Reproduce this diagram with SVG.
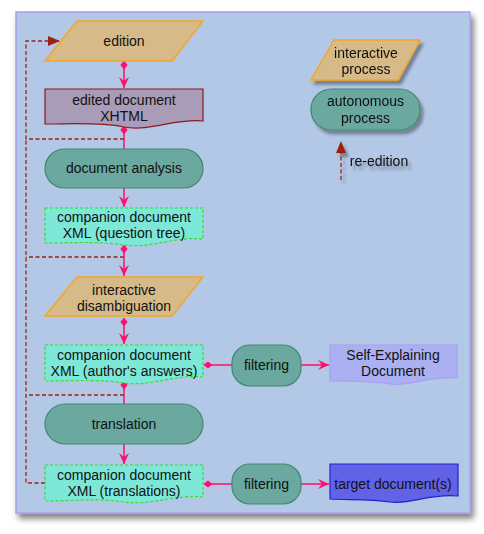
<svg xmlns="http://www.w3.org/2000/svg" width="484" height="534" viewBox="0 0 484 534">
<style>
text{font-family:"Liberation Sans",Arial,sans-serif;font-size:14px;fill:#111;text-anchor:middle}
.par{fill:#d6bb88;stroke:#f5a623;stroke-width:1.5}
.auto{fill:#6aa8a0;stroke:#3e8a6e;stroke-width:1.2}
.comp{fill:#7de8d8;stroke:#33dd33;stroke-width:1.2;stroke-dasharray:3,2}
.con{fill:none;stroke:#ff0f6a;stroke-width:1.5}
.red{fill:none;stroke:#9a2410;stroke-width:1.3;stroke-dasharray:4,2.5}
</style>
<defs>
<filter id="bgsh" x="-10%" y="-10%" width="125%" height="125%">
<feGaussianBlur in="SourceAlpha" stdDeviation="3"/>
<feOffset dx="3" dy="5"/>
<feComponentTransfer><feFuncA type="linear" slope="0.5"/></feComponentTransfer>
<feMerge><feMergeNode/><feMergeNode in="SourceGraphic"/></feMerge>
</filter>
<filter id="sh" x="-20%" y="-20%" width="150%" height="160%">
<feGaussianBlur in="SourceAlpha" stdDeviation="1.5"/>
<feOffset dx="3" dy="4"/>
<feComponentTransfer><feFuncA type="linear" slope="0.35"/></feComponentTransfer>
<feMerge><feMergeNode/><feMergeNode in="SourceGraphic"/></feMerge>
</filter>
<marker id="arr" viewBox="0 0 12 12" refX="11" refY="6" markerWidth="12" markerHeight="12" markerUnits="userSpaceOnUse" orient="auto">
<path d="M0,1 L11,6 L0,11 L4,6 Z" fill="#ff0f6a"/>
</marker>
<marker id="dia" viewBox="0 0 10 10" refX="5" refY="5" markerWidth="9" markerHeight="9" markerUnits="userSpaceOnUse" orient="auto">
<path d="M0,5 L5,1 L10,5 L5,9 Z" fill="#ff0f6a"/>
</marker>
<marker id="rarr" viewBox="0 0 12 12" refX="11" refY="6" markerWidth="12" markerHeight="12" markerUnits="userSpaceOnUse" orient="auto">
<path d="M0,1 L12,6 L0,11 Z" fill="#9a2410"/>
</marker>
</defs>
<rect x="16" y="12" width="454" height="501" fill="#b3c7e6" stroke="#a9a0f0" stroke-width="1.5" filter="url(#bgsh)"/>
<g id="connectors">
<path class="red" d="M124,139 H26 V41 H59" marker-end="url(#rarr)"/>
<path class="red" d="M124,257 H26"/>
<path class="red" d="M124,395 H26"/>
<path class="red" d="M45,483 H26 V139"/>
<path class="con" d="M124,65 V88" marker-start="url(#dia)" marker-end="url(#arr)"/>
<path class="con" d="M124,130 V149" marker-start="url(#dia)"/>
<path class="con" d="M124,188 V207" marker-end="url(#arr)"/>
<path class="con" d="M124,249 V276" marker-start="url(#dia)" marker-end="url(#arr)"/>
<path class="con" d="M124,322 V344" marker-start="url(#dia)" marker-end="url(#arr)"/>
<path class="con" d="M208,365 H232" marker-start="url(#dia)"/>
<path class="con" d="M301,365 H329" marker-end="url(#arr)"/>
<path class="con" d="M124,385 V404" marker-start="url(#dia)"/>
<path class="con" d="M124,444 V464" marker-end="url(#arr)"/>
<path class="con" d="M208,484 H232" marker-start="url(#dia)"/>
<path class="con" d="M301,484 H329" marker-end="url(#arr)"/>
</g>
<g id="edition">
<path class="par" d="M77,21 H203 L172,61 H45 Z"/>
<text x="124" y="46">edition</text>
</g>
<g id="edited-document">
<path d="M45,89 H203 V121 C175,118 150,132 124,127 C100,122 70,124 45,124 Z" fill="#a99cb8" stroke="#8b1a1a" stroke-width="1.2"/>
<text x="124" y="105">edited document</text>
<text x="124" y="121">XHTML</text>
</g>
<g id="document-analysis">
<rect class="auto" x="45" y="149" width="158" height="39" rx="19.5"/>
<text x="124" y="173">document analysis</text>
</g>
<g id="companion-question-tree">
<path class="comp" d="M45,208 H203 V239 C175,236 150,249 124,245 C100,241 70,243 45,243 Z"/>
<text x="124" y="222">companion document</text>
<text x="124" y="238">XML (question tree)</text>
</g>
<g id="interactive-disambiguation">
<path class="par" d="M77,277 H203 L172,316 H45 Z"/>
<text x="124" y="295">interactive</text>
<text x="124" y="311">disambiguation</text>
</g>
<g id="companion-answers">
<path class="comp" d="M45,345 H203 V377 C175,374 150,387 124,383 C100,379 70,381 45,381 Z"/>
<text x="124" y="360">companion document</text>
<text x="124" y="376">XML (author's answers)</text>
</g>
<g id="filtering-1">
<rect class="auto" x="232" y="345" width="69" height="41" rx="18"/>
<text x="266.5" y="370">filtering</text>
</g>
<g id="self-explaining">
<path d="M330,345 H457 V378 C430,375 410,387 390,384 C370,381 350,381 330,381 Z" fill="#aab0f2" stroke="#a9a0f0" stroke-width="1.2"/>
<text x="393" y="360">Self-Explaining</text>
<text x="393" y="376">Document</text>
</g>
<g id="translation">
<rect class="auto" x="45" y="404" width="158" height="40" rx="20"/>
<text x="124" y="429">translation</text>
</g>
<g id="companion-translations">
<path class="comp" d="M45,465 H203 V497 C175,494 150,506 124,502 C100,498 70,501 45,501 Z"/>
<text x="124" y="480">companion document</text>
<text x="124" y="496">XML (translations)</text>
</g>
<g id="filtering-2">
<rect class="auto" x="232" y="464" width="69" height="40" rx="18"/>
<text x="266.5" y="489">filtering</text>
</g>
<g id="target-documents">
<path d="M330,464 H458 V496 C430,493 410,505 390,502 C370,499 350,500 330,499 Z" fill="#6262e6" stroke="#2222cc" stroke-width="1.2"/>
<text x="393" y="489">target document(s)</text>
</g>
<g id="legend-interactive" filter="url(#sh)">
<path class="par" d="M334,40 H420 L398,80 H311 Z"/>
<text x="366" y="58">interactive</text>
<text x="366" y="74">process</text>
</g>
<g id="legend-autonomous" filter="url(#sh)">
<rect class="auto" x="311" y="89" width="109" height="41" rx="20"/>
<text x="365.5" y="106">autonomous</text>
<text x="365.5" y="123">process</text>
</g>
<g id="legend-reedition" filter="url(#sh)">
<path class="red" d="M341,180 V142" marker-end="url(#rarr)"/>
<text x="379" y="166">re-edition</text>
</g>
</svg>
